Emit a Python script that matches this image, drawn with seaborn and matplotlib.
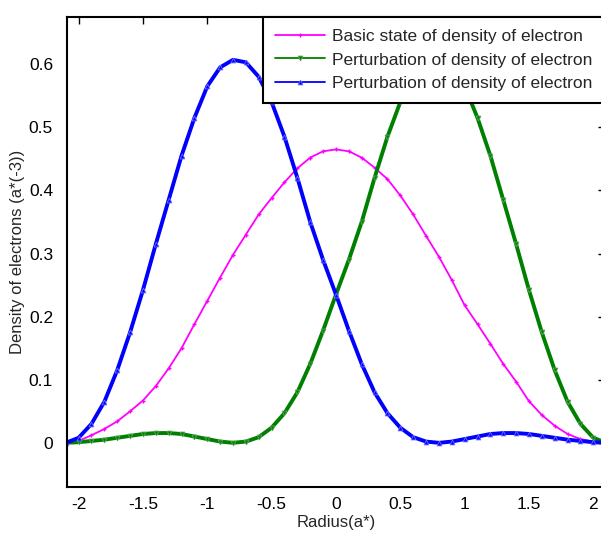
import numpy as np
import pandas as pd
import matplotlib
matplotlib.use("Agg")
import matplotlib.pyplot as plt
import seaborn as sns

# radius grid (0.1 steps)
radius = [round(-2.1 + 0.1 * i, 1) for i in range(43)]

basic_state = [0.0, 0.003, 0.012, 0.022, 0.034, 0.050, 0.067, 0.090, 0.118, 0.150,
               0.188, 0.225, 0.262, 0.298, 0.330, 0.362, 0.388, 0.413, 0.435, 0.452,
               0.462, 0.465, 0.462, 0.452, 0.436, 0.418, 0.392, 0.362, 0.328, 0.295,
               0.258, 0.218, 0.188, 0.157, 0.125, 0.097, 0.066, 0.044, 0.027, 0.014,
               0.006, 0.002, 0.0]

perturb_green = [0.0, 0.001, 0.003, 0.005, 0.008, 0.011, 0.014, 0.0155, 0.0155, 0.014,
                 0.010, 0.006, 0.002, 0.0, 0.002, 0.009, 0.024, 0.047, 0.080, 0.125,
                 0.178, 0.235, 0.290, 0.350, 0.420, 0.485, 0.540, 0.580, 0.603, 0.607,
                 0.595, 0.565, 0.515, 0.455, 0.385, 0.315, 0.242, 0.175, 0.115, 0.065,
                 0.030, 0.008, 0.0]

perturb_blue = [0.0, 0.008, 0.030, 0.065, 0.115, 0.175, 0.242, 0.315, 0.385, 0.455,
                0.515, 0.565, 0.595, 0.607, 0.603, 0.580, 0.540, 0.485, 0.420, 0.350,
                0.290, 0.235, 0.178, 0.125, 0.080, 0.047, 0.024, 0.009, 0.002, 0.0,
                0.002, 0.006, 0.010, 0.014, 0.0155, 0.0155, 0.014, 0.011, 0.008, 0.005,
                0.003, 0.001, 0.0]

labels = ["Basic state of density of electron",
          "Perturbation of density of electron",
          "Perturbation of density of electron"]

sns.set_style("white")
plt.rcParams['font.family'] = ['Liberation Sans', 'DejaVu Sans']

fig = plt.figure(figsize=(6.01, 5.33), dpi=100)
ax = fig.add_axes([0.1115, 0.0863, 0.895, 0.882])

sns.lineplot(x=radius, y=basic_state, ax=ax, color="#ff00ff", lw=1.3,
             marker="+", markersize=3.5, markeredgecolor="#ff00ff", markeredgewidth=1,
             label=labels[0])
sns.lineplot(x=radius, y=perturb_green, ax=ax, color="#008000", lw=2.8,
             marker="v", markersize=3.5, markeredgecolor="#5fa55f", markeredgewidth=0.6,
             label=labels[1])
sns.lineplot(x=radius, y=perturb_blue, ax=ax, color="#0000ff", lw=2.8,
             marker="^", markersize=3.5, markeredgecolor="#7070ff", markeredgewidth=0.6,
             label=labels[2])

ax.set_xlim(-2.09, 2.09)
ax.set_ylim(-0.07, 0.675)
ax.set_xticks([-2, -1.5, -1, -0.5, 0, 0.5, 1, 1.5, 2])
ax.set_xticklabels(["-2", "-1.5", "-1", "-0.5", "0", "0.5", "1", "1.5", "2"])
ax.set_yticks([0, 0.1, 0.2, 0.3, 0.4, 0.5, 0.6])
ax.set_yticklabels(["0", "0.1", "0.2", "0.3", "0.4", "0.5", "0.6"])
ax.tick_params(direction="in", length=5, width=1, top=True, right=True,
               labelsize=12.5, colors="black")
ax.tick_params(axis="y", pad=10)
ax.tick_params(axis="x", pad=7)
for s in ax.spines.values():
    s.set_color("black")
    s.set_linewidth(1.5)

ax.set_xlabel("Radius(a*)", fontsize=12, labelpad=2)
ax.set_ylabel("Density of electrons (a*(-3))", fontsize=12, labelpad=3)

leg = ax.legend(loc="upper right", fontsize=12.5, frameon=True, fancybox=False,
                borderaxespad=0, handlelength=2.9, labelspacing=0.47,
                borderpad=0.7, handletextpad=0.4)
leg.get_frame().set_edgecolor("black")
leg.get_frame().set_linewidth(1.5)
leg.get_frame().set_alpha(1)
# thin lines in the legend, like the original
for h in leg.get_lines():
    h.set_linewidth(1.3)

fig.savefig("out.png", dpi=100)
